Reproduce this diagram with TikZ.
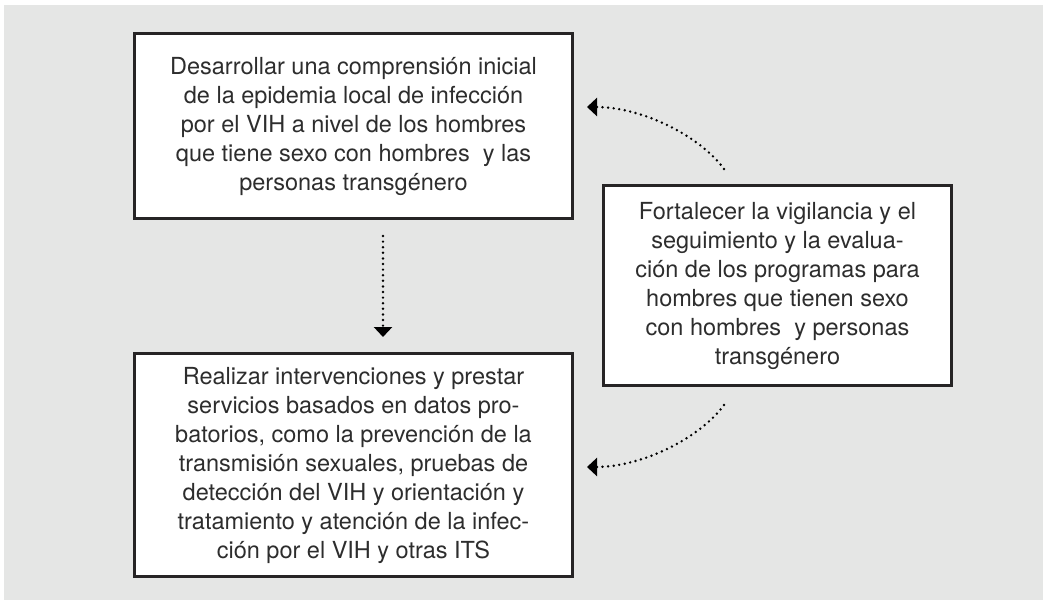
\documentclass[tikz,border=0pt]{standalone}
\usepackage{fontspec}
\setmainfont{TeX Gyre Heros}
\usetikzlibrary{arrows.meta}
\definecolor{bg}{RGB}{229,230,229}
\definecolor{frame}{RGB}{38,36,37}
\definecolor{txt}{RGB}{45,45,45}
\begin{document}
\begin{tikzpicture}[x=1pt,y=-1pt,
  box/.style={draw=frame, line width=2.6pt, fill=white, align=center,
    font=\fontsize{23.5}{29}\selectfont, text=txt, inner sep=0pt},
  dotarrow/.style={draw=black, line width=2.7pt, line cap=round,
    dash pattern=on 0pt off 5.6pt, -{Triangle[length=10pt,width=18pt]}}]
\useasboundingbox (0,0) rectangle (1047,600);
\fill[bg] (4,5) rectangle (1043,600);
\node[box, minimum width=438pt, minimum height=185pt] (b1) at (353.5,126)
  {Desarrollar una comprensión inicial\\
   de la epidemia local de infección\\
   por el VIH a nivel de los hombres\\
   que tiene sexo con hombres\ \ y las\\
   personas transgénero};
\node[box, minimum width=438pt, minimum height=223pt] (b2) at (353.5,465)
  {Realizar intervenciones y prestar\\
   servicios basados en datos pro-\\
   batorios, como la prevención de la\\
   transmisión sexuales, pruebas de\\
   detección del VIH y orientación y\\
   tratamiento y atención de la infec-\\
   ción por el VIH y otras ITS};
\node[box, minimum width=348pt, minimum height=200pt] (b3) at (777.5,285.5)
  {Fortalecer la vigilancia y el\\
   seguimiento y la evalua-\\
   ción de los programas para\\
   hombres que tienen sexo\\
   con hombres\ \ y personas\\
   transgénero};
\coordinate (v1) at (383,236);
\coordinate (v2) at (383,337);
\coordinate (t1) at (724,169);
\coordinate (t2) at (587,107);
\coordinate (u1) at (724,405);
\coordinate (u2) at (587,467);
\draw[dotarrow] (v1) -- (v2);
\draw[dotarrow] (t1) .. controls (700,136) and (642,107) .. (t2);
\draw[dotarrow] (u1) .. controls (700,438) and (642,467) .. (u2);
\end{tikzpicture}
\end{document}
